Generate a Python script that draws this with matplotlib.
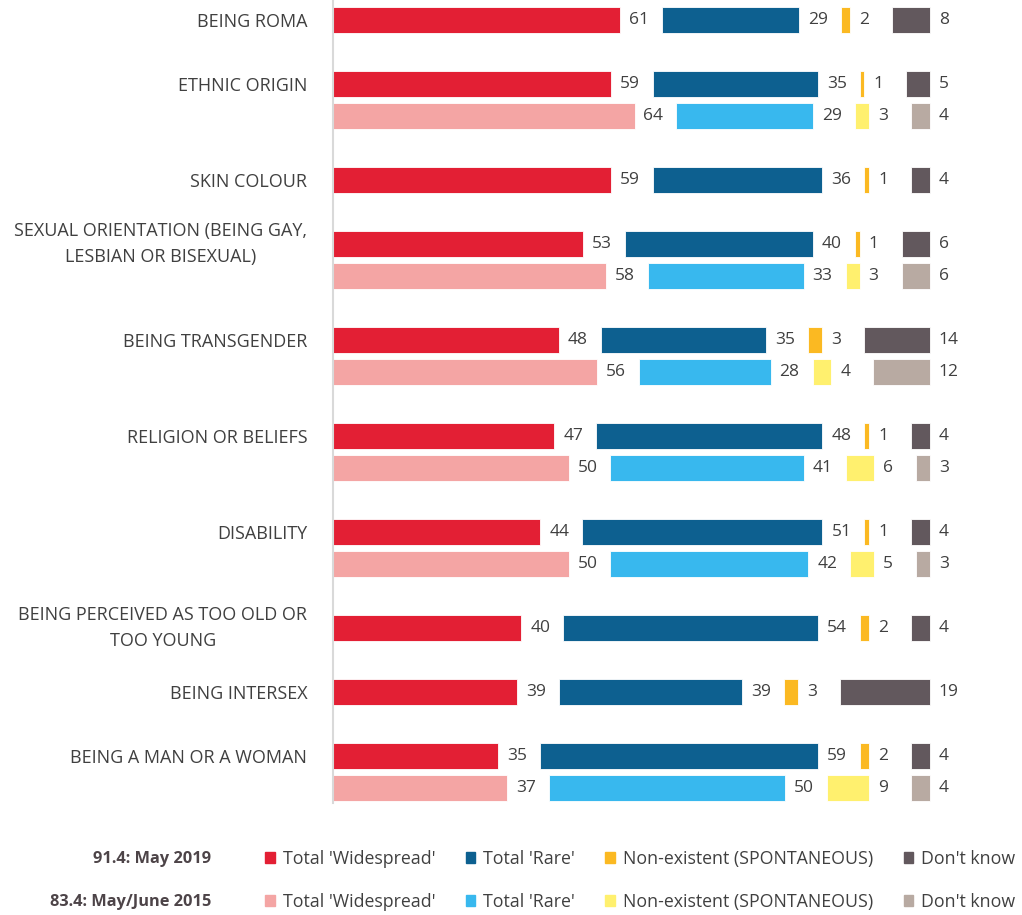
import matplotlib
matplotlib.use("Agg")
import matplotlib.pyplot as plt
from matplotlib.patches import Patch

plt.rcParams['font.family'] = ['Open Sans', 'DejaVu Sans']

## Data

categories = [
    "BEING ROMA",
    "ETHNIC ORIGIN",
    "SKIN COLOUR",
    "SEXUAL ORIENTATION (BEING GAY,\nLESBIAN OR BISEXUAL)",
    "BEING TRANSGENDER",
    "RELIGION OR BELIEFS",
    "DISABILITY",
    "BEING PERCEIVED AS TOO OLD OR\nTOO YOUNG",
    "BEING INTERSEX",
    "BEING A MAN OR A WOMAN",
]

# 91.4: May 2019
widespread_2019 = [61, 59, 59, 53, 48, 47, 44, 40, 39, 35]
rare_2019 = [29, 35, 36, 40, 35, 48, 51, 54, 39, 59]
nonexistent_2019 = [2, 1, 1, 1, 3, 1, 1, 2, 3, 2]
dont_know_2019 = [8, 5, 4, 6, 14, 4, 4, 4, 19, 4]

# 83.4: May/June 2015 (None = not asked)
widespread_2015 = [None, 64, None, 58, 56, 50, 50, None, None, 37]
rare_2015 = [None, 29, None, 33, 28, 41, 42, None, None, 50]
nonexistent_2015 = [None, 3, None, 3, 4, 6, 5, None, None, 9]
dont_know_2015 = [None, 4, None, 6, 12, 3, 3, None, None, 4]

series_names = ["Total 'Widespread'", "Total 'Rare'", "Non-existent (SPONTANEOUS)", "Don't know"]
colors_2019 = ['#e31f34', '#0d6090', '#fbb922', '#62585d']
colors_2015 = ['#f4a5a4', '#38b8ee', '#fff06e', '#b8aaa2']
wave_labels = ["91.4: May 2019", "83.4: May/June 2015"]

GAP = 8.9        # empty space between segments (data units)
TEXT_COL = '#404040'

## Layout of rows: one slot per bar, plus an empty slot after each category
y_2019, y_2015 = [], []
slot = 0
for i in range(len(categories)):
    y_2019.append(slot)
    if widespread_2015[i] is not None:
        y_2015.append(slot + 1)
        slot += 3
    else:
        y_2015.append(None)
        slot += 2

fig = plt.figure(figsize=(10.22, 9.15), dpi=100)
ax = fig.add_axes([333 / 1022, 1 - 803 / 915, 677 / 1022, 803 / 915])


def draw_row(y, values, colors):
    left = 0
    for v, c in zip(values, colors):
        ax.barh(y, v, left=left, height=0.84, color=c, edgecolor='white', linewidth=0.6)
        ax.text(left + v + 1.9, y, str(v), va='center', ha='left',
                fontsize=12.5, color=TEXT_COL)
        left += v + GAP


for i in range(len(categories)):
    draw_row(y_2019[i], [widespread_2019[i], rare_2019[i], nonexistent_2019[i], dont_know_2019[i]],
             colors_2019)
    if y_2015[i] is not None:
        draw_row(y_2015[i], [widespread_2015[i], rare_2015[i], nonexistent_2015[i], dont_know_2015[i]],
                 colors_2015)

ax.set_xlim(0, 143.7)
ax.set_ylim(24.47, -0.625)
ax.set_xticks([])
ax.set_yticks(y_2019, categories)
ax.tick_params(axis='y', length=0, pad=18.5, labelsize=13, labelcolor=TEXT_COL)
for lab in ax.get_yticklabels():
    lab.set_multialignment('center')
    if '\n' in lab.get_text():
        lab.set_linespacing(1.6)
        lab.set_verticalalignment('center')
for s in ['top', 'right', 'bottom']:
    ax.spines[s].set_visible(False)
ax.spines['left'].set_color('#d9d9d9')
ax.spines['left'].set_linewidth(1.5)

## Legend: two rows (2019 / 2015), four columns
handles = []
labels = []
for k in range(4):
    handles += [Patch(color=colors_2019[k]), Patch(color=colors_2015[k])]
    labels += [series_names[k], series_names[k]]

fig.legend(handles, labels, ncol=4, loc='upper left',
           bbox_to_anchor=(265 / 1022, 1 - 850 / 915), frameon=False,
           fontsize=12.8, labelcolor=TEXT_COL, borderpad=0, borderaxespad=0,
           handlelength=0.55, handleheight=0.6, handletextpad=0.45,
           columnspacing=1.7, labelspacing=1.4)

fig.text(211 / 1022, 1 - 859 / 915, wave_labels[0], ha='right', va='center',
         fontsize=11.8, fontweight='bold', color='#4d4448')
fig.text(211 / 1022, 1 - 902 / 915, wave_labels[1], ha='right', va='center',
         fontsize=11.8, fontweight='bold', color='#4d4448')

fig.savefig('out.png', dpi=100)
